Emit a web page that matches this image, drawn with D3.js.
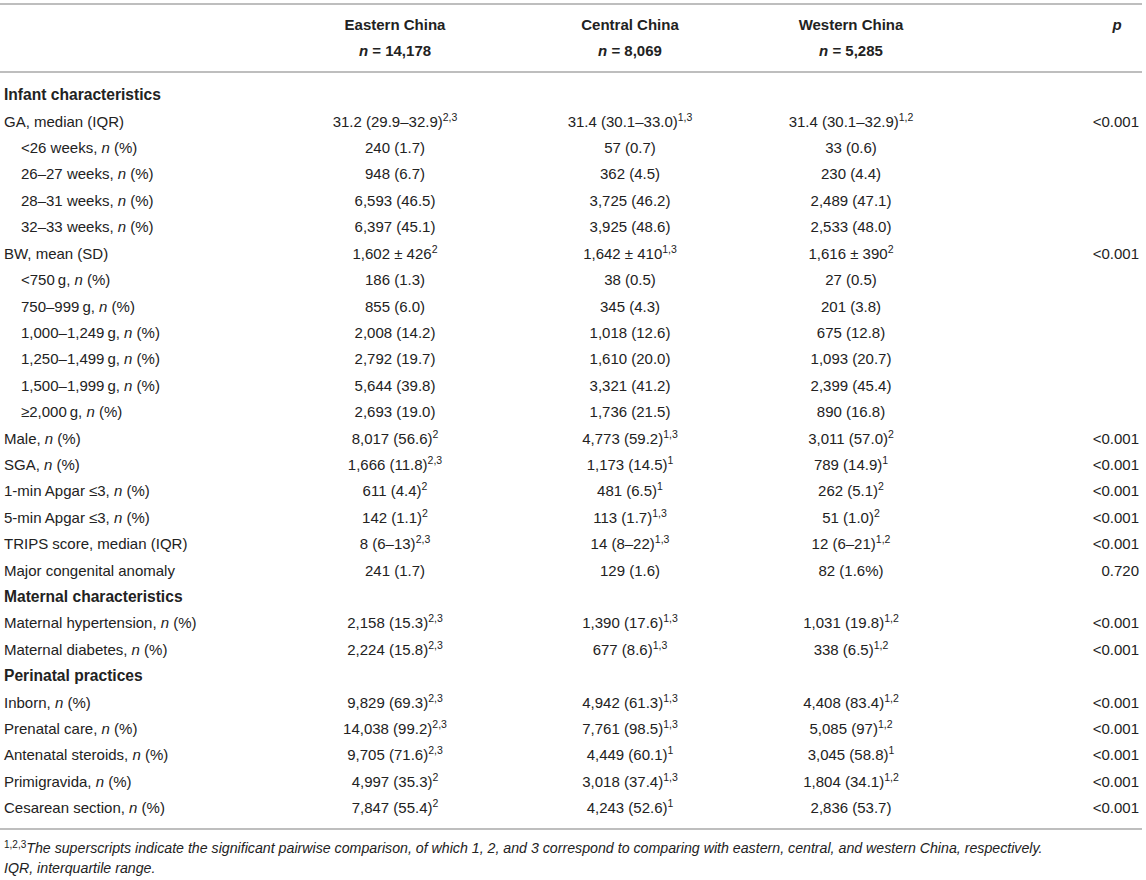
<!DOCTYPE html>
<html>
<head>
<meta charset="utf-8">
<script src="https://cdn.jsdelivr.net/npm/d3@7"></script>
<style>
  body { margin: 0; background: #fff; }
  text { font-family: "Liberation Sans", Arial, sans-serif; fill: #222; }
</style>
</head>
<body>
<div id="table"></div>
<script>
// table content (^ marks a superscript, *n* marks italic n)
var columns = ["Eastern China", "Central China", "Western China", "p"];
var groupN = ["14,178", "8,069", "5,285"];

var rowLabels = [
  "Infant characteristics",
  "GA, median (IQR)",
  "<26 weeks, *n* (%)",
  "26–27 weeks, *n* (%)",
  "28–31 weeks, *n* (%)",
  "32–33 weeks, *n* (%)",
  "BW, mean (SD)",
  "<750\u2009g, *n* (%)",
  "750–999\u2009g, *n* (%)",
  "1,000–1,249\u2009g, *n* (%)",
  "1,250–1,499\u2009g, *n* (%)",
  "1,500–1,999\u2009g, *n* (%)",
  "≥2,000\u2009g, *n* (%)",
  "Male, *n* (%)",
  "SGA, *n* (%)",
  "1-min Apgar ≤3, *n* (%)",
  "5-min Apgar ≤3, *n* (%)",
  "TRIPS score, median (IQR)",
  "Major congenital anomaly",
  "Maternal characteristics",
  "Maternal hypertension, *n* (%)",
  "Maternal diabetes, *n* (%)",
  "Perinatal practices",
  "Inborn, *n* (%)",
  "Prenatal care, *n* (%)",
  "Antenatal steroids, *n* (%)",
  "Primigravida, *n* (%)",
  "Cesarean section, *n* (%)"
];

// h = section heading, r = row, s = indented sub row
var rowKind = ["h","r","s","s","s","s","r","s","s","s","s","s","s","r","r","r","r","r","r",
               "h","r","r","h","r","r","r","r","r"];

var eastern = ["", "31.2 (29.9–32.9)^2,3", "240 (1.7)", "948 (6.7)", "6,593 (46.5)", "6,397 (45.1)",
  "1,602 ± 426^2", "186 (1.3)", "855 (6.0)", "2,008 (14.2)", "2,792 (19.7)", "5,644 (39.8)", "2,693 (19.0)",
  "8,017 (56.6)^2", "1,666 (11.8)^2,3", "611 (4.4)^2", "142 (1.1)^2", "8 (6–13)^2,3", "241 (1.7)",
  "", "2,158 (15.3)^2,3", "2,224 (15.8)^2,3",
  "", "9,829 (69.3)^2,3", "14,038 (99.2)^2,3", "9,705 (71.6)^2,3", "4,997 (35.3)^2", "7,847 (55.4)^2"];

var central = ["", "31.4 (30.1–33.0)^1,3", "57 (0.7)", "362 (4.5)", "3,725 (46.2)", "3,925 (48.6)",
  "1,642 ± 410^1,3", "38 (0.5)", "345 (4.3)", "1,018 (12.6)", "1,610 (20.0)", "3,321 (41.2)", "1,736 (21.5)",
  "4,773 (59.2)^1,3", "1,173 (14.5)^1", "481 (6.5)^1", "113 (1.7)^1,3", "14 (8–22)^1,3", "129 (1.6)",
  "", "1,390 (17.6)^1,3", "677 (8.6)^1,3",
  "", "4,942 (61.3)^1,3", "7,761 (98.5)^1,3", "4,449 (60.1)^1", "3,018 (37.4)^1,3", "4,243 (52.6)^1"];

var western = ["", "31.4 (30.1–32.9)^1,2", "33 (0.6)", "230 (4.4)", "2,489 (47.1)", "2,533 (48.0)",
  "1,616 ± 390^2", "27 (0.5)", "201 (3.8)", "675 (12.8)", "1,093 (20.7)", "2,399 (45.4)", "890 (16.8)",
  "3,011 (57.0)^2", "789 (14.9)^1", "262 (5.1)^2", "51 (1.0)^2", "12 (6–21)^1,2", "82 (1.6%)",
  "", "1,031 (19.8)^1,2", "338 (6.5)^1,2",
  "", "4,408 (83.4)^1,2", "5,085 (97)^1,2", "3,045 (58.8)^1", "1,804 (34.1)^1,2", "2,836 (53.7)"];

var pValues = ["", "<0.001", "", "", "", "", "<0.001", "", "", "", "", "", "",
  "<0.001", "<0.001", "<0.001", "<0.001", "<0.001", "0.720",
  "", "<0.001", "<0.001",
  "", "<0.001", "<0.001", "<0.001", "<0.001", "<0.001"];

var footnotes = [
  "The superscripts indicate the significant pairwise comparison, of which 1, 2, and 3 correspond to comparing with eastern, central, and western China, respectively.",
  "IQR, interquartile range."
];

var width = 1146, height = 880;

var svg = d3.select("#table")
  .append("svg")
    .attr("width", width)
    .attr("height", height);

// column centres
var x = d3.scaleOrdinal()
  .domain(columns)
  .range([395, 630, 851, 1117]);

// row positions
var y = d3.scalePoint()
  .domain(d3.range(rowLabels.length))
  .range([95, 808]);

// rules
var rules = [4, 72, 829];
svg.selectAll("line.rule")
  .data(rules)
  .join("line")
    .attr("class", "rule")
    .attr("x1", 0)
    .attr("x2", 1142)
    .attr("y1", d => d)
    .attr("y2", d => d)
    .attr("stroke", "#a8a8a8")
    .attr("stroke-width", 1.6);

// header
svg.selectAll("text.colhead")
  .data(columns)
  .join("text")
    .attr("class", "colhead")
    .attr("x", d => x(d))
    .attr("y", 25)
    .attr("dy", "0.35em")
    .attr("text-anchor", "middle")
    .style("font-size", "15px")
    .style("font-weight", "bold")
    .style("font-style", d => d == "p" ? "italic" : null)
    .text(d => d);

var nHead = svg.selectAll("text.nhead")
  .data(groupN)
  .join("text")
    .attr("class", "nhead")
    .attr("x", (d, i) => x(columns[i]))
    .attr("y", 51)
    .attr("dy", "0.35em")
    .attr("text-anchor", "middle")
    .style("font-size", "15px")
    .style("font-weight", "bold");
nHead.append("tspan").style("font-style", "italic").text("n");
nHead.append("tspan").text(d => " = " + d);

// labels with italic n
function addLabel(sel, str) {
  var parts = str.split("*");
  parts.forEach(function(p, i) {
    if (p === "") return;
    sel.append("tspan")
      .style("font-style", i % 2 == 1 ? "italic" : null)
      .text(p);
  });
}

// cell text with trailing superscript
function addCell(sel, str) {
  var parts = str.split("^");
  sel.append("tspan").text(parts[0]);
  if (parts.length > 1) {
    sel.append("tspan")
      .attr("dy", -6)
      .style("font-size", "10.5px")
      .text(parts[1]);
  }
}

var labels = svg.selectAll("text.label")
  .data(rowLabels)
  .join("text")
    .attr("class", "label")
    .attr("x", (d, i) => rowKind[i] == "s" ? 21 : 4)
    .attr("y", (d, i) => y(i))
    .attr("dy", "0.35em")
    .style("font-size", (d, i) => rowKind[i] == "h" ? "15.6px" : "15px")
    .style("font-weight", (d, i) => rowKind[i] == "h" ? "bold" : null)
    .each(function(d) { addLabel(d3.select(this), d); });

var series = [eastern, central, western];
series.forEach(function(vals, c) {
  svg.append("g")
    .selectAll("text")
    .data(vals)
    .join("text")
      .attr("x", x(columns[c]))
      .attr("y", (d, i) => y(i))
      .attr("dy", "0.35em")
      .attr("text-anchor", "middle")
      .style("font-size", "15px")
      .each(function(d) { if (d) addCell(d3.select(this), d); });
});

svg.append("g")
  .selectAll("text")
  .data(pValues)
  .join("text")
    .attr("x", 1139)
    .attr("y", (d, i) => y(i))
    .attr("dy", "0.35em")
    .attr("text-anchor", "end")
    .style("font-size", "15px")
    .text(d => d);

// footnotes
var fn = svg.append("text")
  .attr("x", 4)
  .attr("y", 848)
  .attr("dy", "0.35em")
  .style("font-size", "14.2px");
fn.append("tspan").attr("baseline-shift", "super").style("font-size", "10px").text("1,2,3");
fn.append("tspan").attr("baseline-shift", "0").style("font-style", "italic").text(footnotes[0]);

svg.append("text")
  .attr("x", 4)
  .attr("y", 868)
  .attr("dy", "0.35em")
  .style("font-size", "14.2px")
  .style("font-style", "italic")
  .text(footnotes[1]);
</script>
</body>
</html>
